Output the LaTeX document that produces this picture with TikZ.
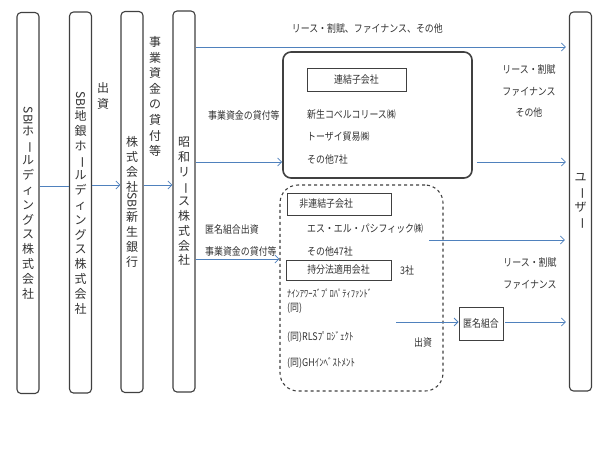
\documentclass[tikz,border=0pt]{standalone}
\usepackage{fontspec}
\usepackage{graphicx}
\usetikzlibrary{arrows.meta}

\newfontfamily\jp[FakeStretch=0.85]{Noto Sans CJK JP}
\newfontfamily\jpv{Noto Sans CJK JP}
% Para el texto vertical: la raya larga y las letras latinas van giradas
\newcommand{\chou}{\rotatebox[origin=c]{-90}{ー}}
\newcommand{\yoko}[1]{\rotatebox[origin=c]{-90}{#1}}

\definecolor{flecha}{RGB}{79,129,189}
\definecolor{borde}{RGB}{64,64,64}
\definecolor{letra}{RGB}{50,50,50}

\begin{document}
\begin{tikzpicture}[x=1pt, y=-1pt,
  columna/.style={draw=borde, line width=1.1pt, rounded corners=4pt, minimum width=22pt, minimum height=381pt, inner sep=0pt, align=center, text=letra, font=\jpv\fontsize{12}{14.8}\selectfont},
  vertical/.style={inner sep=0pt, align=center, text=letra, font=\jpv\fontsize{12}{15.6}\selectfont},
  caja/.style={draw=borde, line width=0.8pt, inner sep=0pt, text=letra, font=\jp\fontsize{10.5}{12}\selectfont},
  etiqueta/.style={inner sep=0pt, text=letra, font=\jp\fontsize{10.5}{12}\selectfont},
  flujo/.style={draw=flecha, line width=0.8pt, -{Straight Barb[length=4pt,width=8pt]}},
  linea/.style={draw=flecha, line width=0.8pt}]

\fill[white] (0,0) rectangle (601,459);
\useasboundingbox (0,0) rectangle (601,459);

% Las columnas verticales con las empresas
\node[columna] (sbih) at (28,203) {\yoko{SBI}\\ホ\\\chou\\ル\\デ\\ィ\\ン\\グ\\ス\\株\\式\\会\\社};
\node[columna] (chigin) at (80.5,202.5) {\yoko{SBI}\\地\\銀\\ホ\\\chou\\ル\\デ\\ィ\\ン\\グ\\ス\\株\\式\\会\\社};
\node[columna] (shinsei) at (132,202) {株\\式\\会\\社\\\yoko{SBI}\\新\\生\\銀\\行};
\node[columna] (showa) at (184,201.5) {昭\\和\\リ\\\chou\\ス\\株\\式\\会\\社};
\node[columna, minimum height=379pt] (user) at (580.5,201.5) {ユ\\\chou\\ザ\\\chou};

% Etiquetas verticales entre columnas
\node[vertical, font=\jpv\fontsize{12}{16.5}\selectfont] (shusshi) at (103,96) {出\\資};
\node[vertical] (kashitsuke) at (155,96.5) {事\\業\\資\\金\\の\\貸\\付\\等};

% Grupo de sociedades consolidadas
\node[draw=borde, line width=1.6pt, rounded corners=8pt, minimum width=189pt, minimum height=126pt] (renketsu) at (377.5,115) {};
\node[caja, minimum width=99pt, minimum height=23pt] (renbox) at (356.5,79.5) {連結子会社};
\node[etiqueta, anchor=west] (kobelco) at (307,115) {新生コベルコリース㈱};
\node[etiqueta, anchor=west] (tozai) at (307,137) {トーザイ貿易㈱};
\node[etiqueta, anchor=west] (sonota7) at (307,160) {その他7社};

% Grupo no consolidado (borde discontinuo)
\node[draw=borde, dashed, line width=1.1pt, rounded corners=18pt, minimum width=163pt, minimum height=206pt] (hiren) at (361.5,288) {};
\node[caja, anchor=west, text width=80pt, inner xsep=12pt, minimum height=22pt, align=left] (hirenbox) at (287,204) {非連結子会社};
\node[etiqueta, anchor=west] (slp) at (307,229) {エス・エル・パシフィック㈱};
\node[etiqueta, anchor=west] (sonota47) at (307,251) {その他47社};
\node[caja, minimum width=105pt, minimum height=20pt] (mochibun) at (338.5,270) {持分法適用会社};
\node[etiqueta, anchor=west] (sansha) at (400,270) {3社};
\node[etiqueta, anchor=west, font=\jp\fontsize{10}{11}\selectfont] (nine) at (287,293) {ﾅｲﾝｱﾜｰｽﾞﾌﾟﾛﾊﾟﾃｨﾌｧﾝﾄﾞ};
\node[etiqueta, anchor=west] (onaji) at (287,308) {(同)};
\node[etiqueta, anchor=west] (rls) at (287,337) {(同)RLSﾌﾟﾛｼﾞｪｸﾄ};
\node[etiqueta, anchor=west] (gh) at (287,363) {(同)GHｲﾝﾍﾞｽﾄﾒﾝﾄ};
\node[etiqueta] (shusshi2) at (423,343) {出資};

% Caja del anonimo
\node[caja, minimum width=44pt, minimum height=33pt] (tokumei) at (481,323.5) {匿名組合};

% Etiquetas de los flujos
\node[etiqueta, anchor=west] (kashi1) at (208,115) {事業資金の貸付等};
\node[etiqueta, anchor=west] (tokumeishusshi) at (205,229) {匿名組合出資};
\node[etiqueta, anchor=west] (kashi2) at (205,251) {事業資金の貸付等};
\node[etiqueta, align=center, font=\jp\fontsize{10.5}{21.5}\selectfont] (lease1) at (529,91.5) {リース・割賦\\ファイナンス\\その他};
\node[etiqueta, align=center, font=\jp\fontsize{10.5}{22}\selectfont] (lease2) at (530,274) {リース・割賦\\ファイナンス};

% Puntos sueltos de donde salen flechas
\coordinate (c1) at (429,240);
\coordinate (c2) at (396,322);

% Flechas
\draw[linea] (sbih.east |- 0,186) -- (chigin.west |- 0,186);
\draw[flujo] (chigin.east |- 0,185) -- (shinsei.west |- 0,185);
\draw[flujo] (shinsei.east |- 0,185) -- (showa.west |- 0,185);
\draw[flujo, shorten >=3pt] (showa.east |- 0,47) -- node[pos=0.46, above=13pt, etiqueta] {リース・割賦、ファイナンス、その他} (user.west |- 0,47);
\draw[flujo] (showa.east |- 0,162) -- (renketsu.west |- 0,162);
\draw[flujo, shorten <=4pt, shorten >=3pt] (renketsu.east |- 0,162) -- (user.west |- 0,162);
\draw[flujo] (showa.east |- 0,259) -- (hiren.west |- 0,259);
\draw[flujo, shorten >=4pt] (c1) -- (user.west |- c1);
\draw[flujo] (c2) -- (tokumei.west |- c2);
\draw[flujo, shorten <=2pt, shorten >=3pt] (tokumei.east |- c2) -- (user.west |- c2);
\end{tikzpicture}
\end{document}
